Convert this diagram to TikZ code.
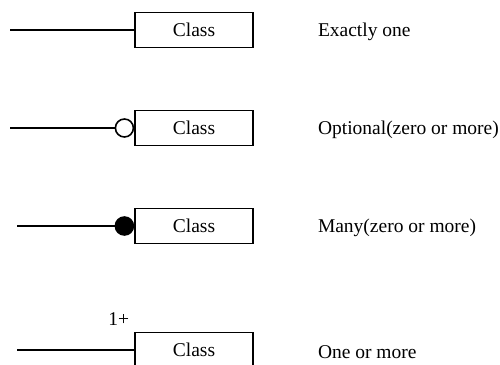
\documentclass[tikz,border=0pt]{standalone}
\usepackage{fontspec}
\setmainfont{Liberation Serif}
\usetikzlibrary{positioning}

\tikzset{
  classbox/.style={draw, line width=1.6pt, minimum width=118pt, minimum height=35pt, inner sep=0pt},
  link/.style={line width=1.6pt},
  ball/.style={circle, draw, line width=1.6pt, minimum size=18pt, inner sep=0pt},
  multlabel/.style={inner sep=0pt},
  desc/.style={inner sep=0pt, yshift=-2pt},
}

\begin{document}
\begin{tikzpicture}[x=1pt, y=-1pt, font=\fontsize{19.5}{22}\selectfont]
\useasboundingbox (0,0) rectangle (500,364);
% Exactly one
\node[classbox] (c1) at (194,30) {Class};
\coordinate (s1) at (10,30);
\draw[link] (s1) -- (c1.west);
\node[desc, right=64pt of c1] (l1) {Exactly one};
% Optional
\node[classbox] (c2) at (194,128) {Class};
\node[ball, fill=white, left=0pt of c2] (o2) {};
\coordinate (s2) at (10,128);
\draw[link] (s2) -- (o2);
\node[desc, right=64pt of c2] (l2) {Optional(zero or more)};
% Many
\node[classbox] (c3) at (194,226) {Class};
\node[ball, fill=black, left=0pt of c3] (o3) {};
\coordinate (s3) at (17,226);
\draw[link] (s3) -- (o3);
\node[desc, right=64pt of c3] (l3) {Many(zero or more)};
% One or more
\node[classbox] (c4) at (194,350) {Class};
\coordinate (s4) at (17,350);
\draw[link] (s4) -- (c4.west);
\node[desc, right=64pt of c4] (l4) {One or more};
\node[multlabel, above left=6pt and 5pt of c4.north west] (m4) {1+};
\end{tikzpicture}
\end{document}
